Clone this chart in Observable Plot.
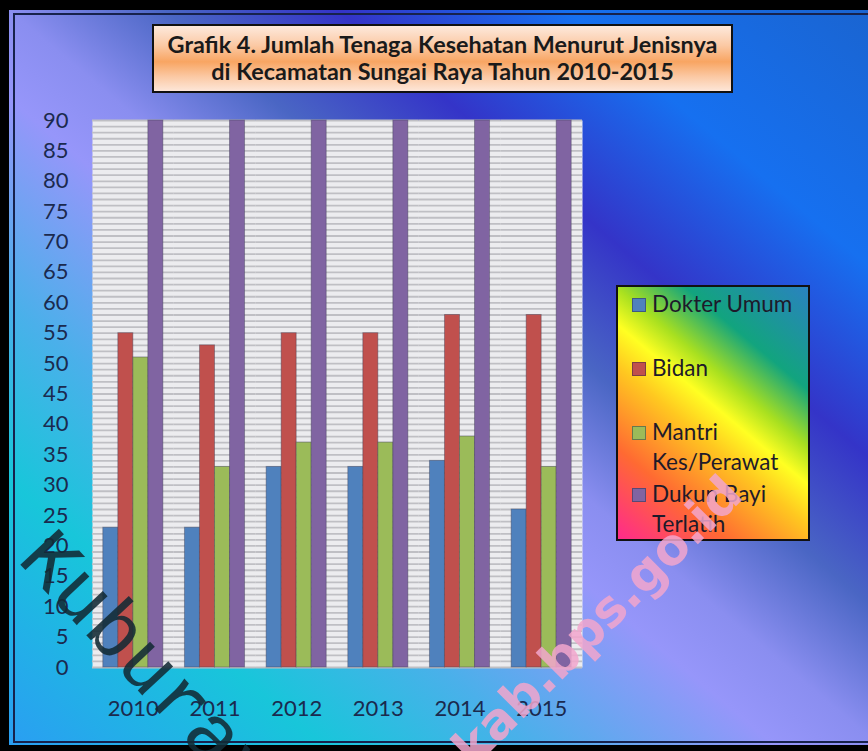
<!DOCTYPE html>
<html>
<head>
<meta charset="utf-8">
<script src="https://cdn.jsdelivr.net/npm/d3@7"></script>
<script src="https://cdn.jsdelivr.net/npm/@observablehq/plot@0.6"></script>
<style>
html, body { margin: 0; padding: 0; background: #000; }
#root { position: relative; width: 868px; height: 751px; overflow: hidden; background: #000; font-family: Lato, "Open Sans", sans-serif; }
#bg { position: absolute; left: 9px; top: 10px; width: 870px; height: 735px;
  background: linear-gradient(to top right, #2a9ef2 0%, #18c6da 18%, #4ab0ea 30%, #9696fa 44%, #8a8ef0 50%, #4a66c4 59%, #3434c8 69%, #1670f0 82%, #1a64d0 100%); }
#bg::after { content: ""; position: absolute; left: 4px; top: 3px; right: -10px; bottom: 2px; border: 2px solid #17224c; }
#chart { position: absolute; left: 0; top: 0; }
#title { position: absolute; left: 152px; top: 24px; width: 581px; height: 69px; box-sizing: border-box;
  border: 2px solid #111; text-align: center; font-weight: 700; font-size: 23.4px; line-height: 27px; color: #1a1a1a; padding-top: 5px; white-space: nowrap;
  background: linear-gradient(to bottom, #fde9dc 0%, #fbc9a4 30%, #f8a562 55%, #fbc9a4 78%, #fde6d8 100%); }
#legend { position: absolute; left: 616px; top: 285px; width: 194px; height: 256px; box-sizing: border-box; border: 2px solid #111;
  background: linear-gradient(40deg, #ff2a8c 0%, #ff6a32 22%, #ffc820 42%, #ffff22 52%, #a8e020 61%, #12a47e 75%, #2a82c0 100%); }
.item { position: absolute; left: 14px; width: 170px; font-size: 22.5px; line-height: 30px; color: #1e1a2a; }
.sw { position: absolute; left: 0; top: 9px; width: 12px; height: 12px; border: 1px solid rgba(40,40,60,0.45); }
.lbl { position: absolute; left: 20px; top: 0; width: 152px; }
#wm { position: absolute; left: 0; top: 0; pointer-events: none; }
</style>
</head>
<body>
<div id="root">
  <div id="bg"></div>
  <div id="chartHolder"></div>
  <div id="title">Grafik 4. Jumlah Tenaga Kesehatan Menurut Jenisnya<br>di Kecamatan Sungai Raya Tahun 2010-2015</div>
  <div id="legend"></div>
  <svg id="wm" width="868" height="751">
    <text x="16" y="560" transform="rotate(47 16 560)" font-family="Liberation Mono" font-weight="400" font-size="80" fill="#122a34" fill-opacity="0.88">Kuburaya</text>
    <text x="745" y="497" transform="rotate(-45 745 497)" text-anchor="end" font-family="DejaVu Sans" font-weight="700" font-size="50" fill="#f2a6cc" fill-opacity="0.85">kuburayakab.bps.go.id</text>
  </svg>
</div>
<script>
const years = ["2010", "2011", "2012", "2013", "2014", "2015"];
const series = ["Dokter Umum", "Bidan", "Mantri Kes/Perawat", "Dukun Bayi Terlatih"];
const dokterUmum = [23, 23, 33, 33, 34, 26];
const bidan = [55, 53, 55, 55, 58, 58];
const mantriKesPerawat = [51, 33, 37, 37, 38, 33];
const dukunBayiTerlatih = [90, 90, 90, 90, 90, 90];
const yTicks = [0, 5, 10, 15, 20, 25, 30, 35, 40, 45, 50, 55, 60, 65, 70, 75, 80, 85, 90];
const colors = ["#4f81bd", "#c0504d", "#9bbb59", "#8064a2"];

const seriesValues = [dokterUmum, bidan, mantriKesPerawat, dukunBayiTerlatih];
const data = years.flatMap((year, i) => series.map((s, j) => ({year, series: s, value: seriesValues[j][i]})));

const chart = Plot.plot({
  width: 868,
  height: 751,
  marginLeft: 92,
  marginRight: 286,
  marginTop: 120,
  marginBottom: 84,
  style: {background: "transparent", fontFamily: "Lato, sans-serif", fontSize: "22px", color: "#1b2a4e", overflow: "visible"},
  fx: {domain: years, padding: 0, round: false, label: null, axis: "bottom", tickSize: 0, tickPadding: 33},
  x: {domain: series, paddingInner: 0, paddingOuter: 0.72, round: false, axis: null},
  y: {domain: [0, 90], clamp: true, ticks: yTicks, tickSize: 0, tickPadding: 24, label: null},
  color: {domain: series, range: colors},
  marks: [
    Plot.frame({fill: "#ececef", stroke: null, facet: "super"}),
    Plot.gridY({ticks: 90, stroke: "#bfbfc4", strokeOpacity: 1, strokeWidth: 1.8}),
    Plot.barY(data, {fx: "year", x: "series", y: "value", fill: "series", stroke: "#3a3a50", strokeOpacity: 0.4, strokeWidth: 1})
  ]
});
chart.id = "chart";
document.getElementById("chartHolder").appendChild(chart);

const legendTops = [2, 66, 130, 192];
const legend = document.getElementById("legend");
series.forEach((s, i) => {
  const item = document.createElement("div");
  item.className = "item";
  item.style.top = legendTops[i] + "px";
  const sw = document.createElement("div");
  sw.className = "sw";
  sw.style.background = colors[i];
  const lbl = document.createElement("div");
  lbl.className = "lbl";
  lbl.textContent = s;
  item.appendChild(sw);
  item.appendChild(lbl);
  legend.appendChild(item);
});
</script>
</body>
</html>
